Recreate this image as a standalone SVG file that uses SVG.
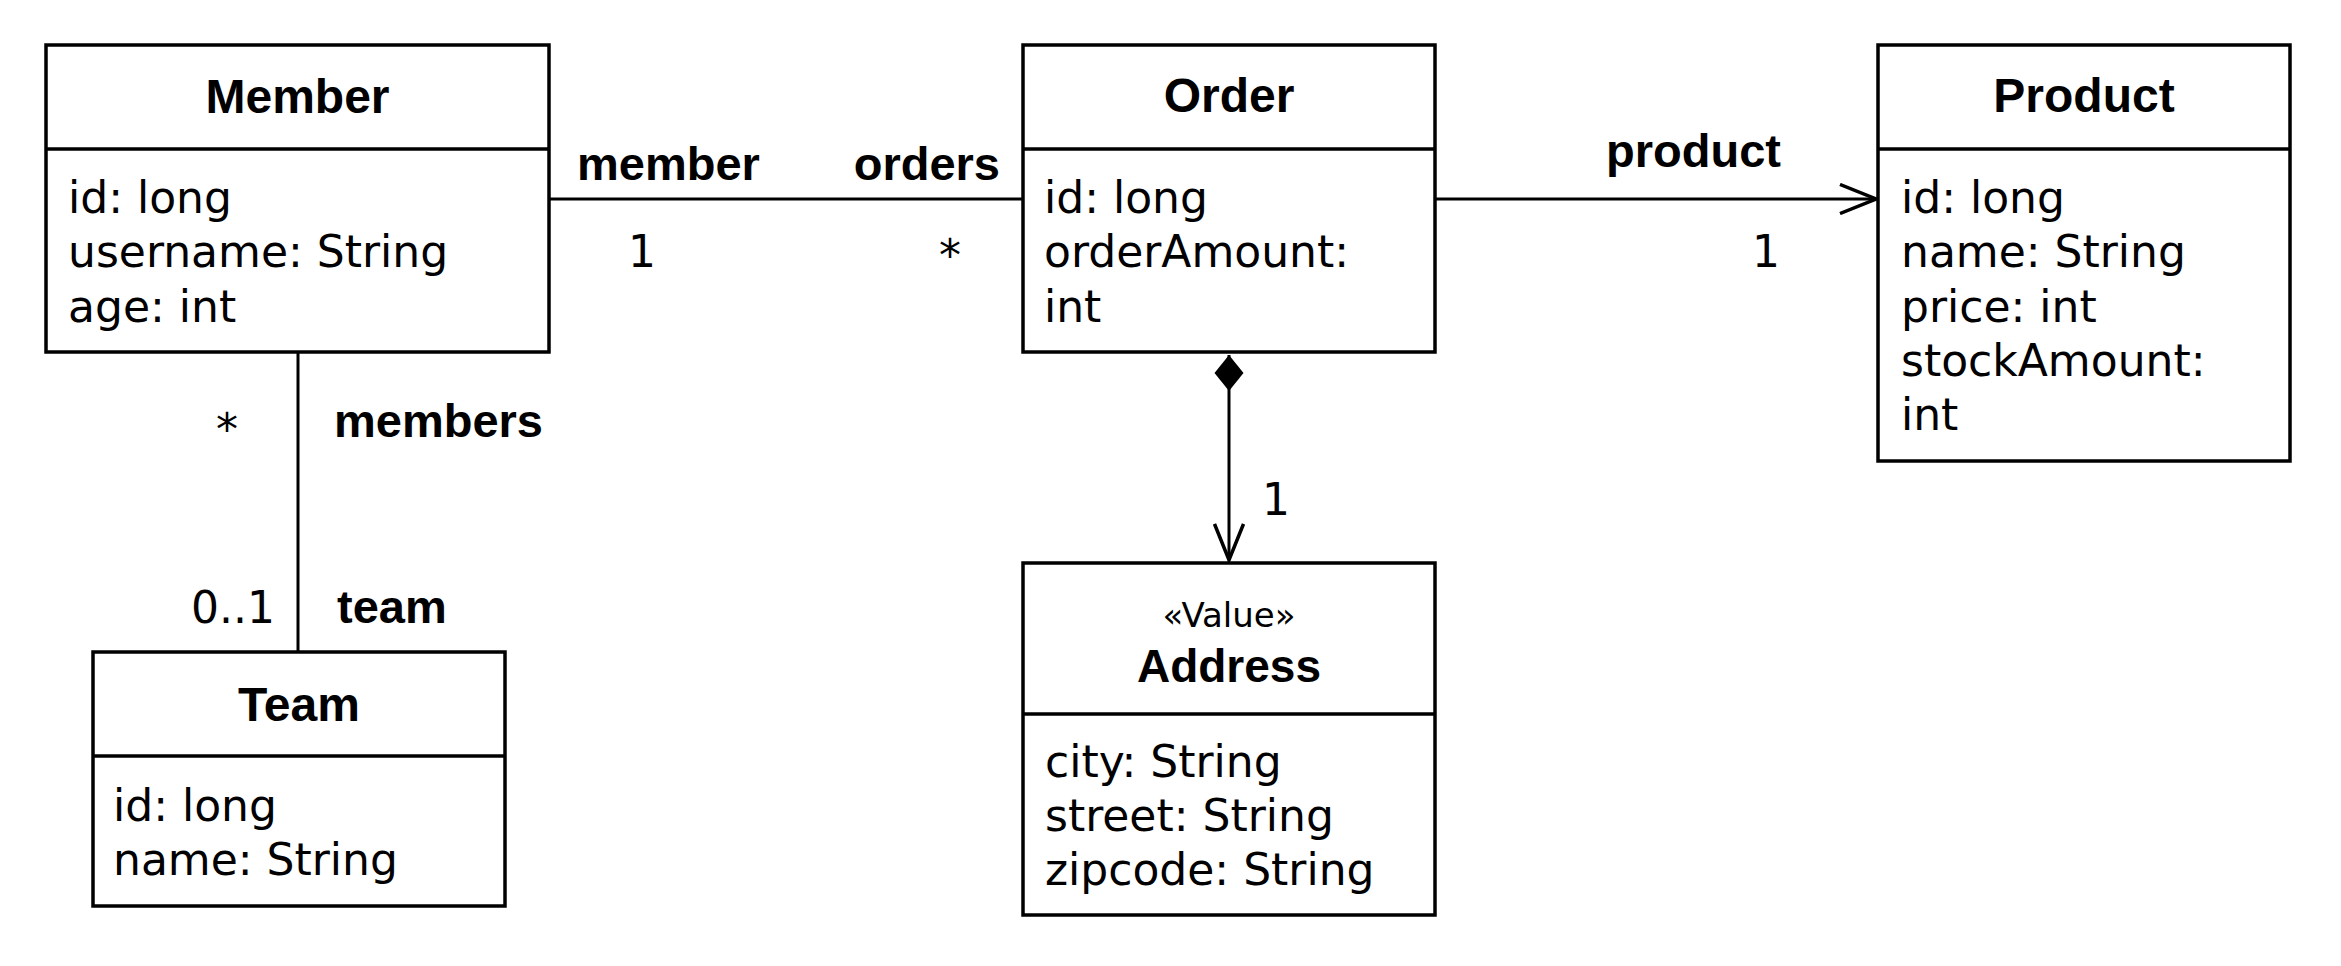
<svg xmlns="http://www.w3.org/2000/svg" width="2341" height="966" viewBox="0 0 2341 966">
<style>
.box{fill:#fff;stroke:#000;stroke-width:3.5}
.div{stroke:#000;stroke-width:3.5}
.line{fill:none;stroke:#000;stroke-width:3}
.title{font-family:"Liberation Sans",Arial,sans-serif;font-weight:bold;font-size:48px;text-anchor:middle;fill:#000}
.attr{font-family:"DejaVu Sans",sans-serif;font-size:44px;fill:#000}
.stereo{font-family:"DejaVu Sans",sans-serif;font-size:34px;text-anchor:middle;fill:#000}
.role{font-family:"Liberation Sans",Arial,sans-serif;font-weight:bold;font-size:47px;fill:#000}
.mult{font-family:"DejaVu Sans",sans-serif;font-size:44px;fill:#000}
</style>
<defs>
<marker id="open" viewBox="0 0 40 32" refX="37" refY="16" markerWidth="40" markerHeight="32" markerUnits="userSpaceOnUse" orient="auto">
<path d="M1,1.5 L37,16 L1,30.5" fill="none" stroke="#000" stroke-width="3.5"/>
</marker>
<marker id="diamond" viewBox="0 0 38 30" refX="1" refY="15" markerWidth="38" markerHeight="30" markerUnits="userSpaceOnUse" orient="auto">
<path d="M1,15 L19,0.5 L37,15 L19,29.5 Z" fill="#000"/>
</marker>
</defs>
<rect width="2341" height="966" fill="#fff"/>

<g id="connectors">
<line class="line" x1="549" y1="199" x2="1023" y2="199"/>
<line class="line" x1="298" y1="352" x2="298" y2="652"/>
<line class="line" x1="1435" y1="199" x2="1876" y2="199" marker-end="url(#open)"/>
<line class="line" x1="1229" y1="355" x2="1229" y2="560" marker-start="url(#diamond)" marker-end="url(#open)"/>
<text class="role" x="577" y="180">member</text>
<text class="role" x="1000" y="180" text-anchor="end">orders</text>
<text class="mult" x="628" y="267">1</text>
<text class="mult" x="950" y="271" text-anchor="middle">*</text>
<text class="role" x="1606" y="167">product</text>
<text class="mult" x="1752" y="267">1</text>
<text class="mult" x="227" y="445" text-anchor="middle">*</text>
<text class="role" x="334" y="437">members</text>
<text class="mult" x="275" y="623" text-anchor="end">0..1</text>
<text class="role" x="337" y="623">team</text>
<text class="mult" x="1262" y="515">1</text>
</g>

<g id="member">
<rect class="box" x="46" y="45" width="503" height="307"/>
<line class="div" x1="46" y1="149" x2="549" y2="149"/>
<text class="title" x="297.5" y="113">Member</text>
<text class="attr" x="68" y="213">id: long</text>
<text class="attr" x="68" y="267">username: String</text>
<text class="attr" x="68" y="322">age: int</text>
</g>

<g id="order">
<rect class="box" x="1023" y="45" width="412" height="307"/>
<line class="div" x1="1023" y1="149" x2="1435" y2="149"/>
<text class="title" x="1229" y="112">Order</text>
<text class="attr" x="1044" y="213">id: long</text>
<text class="attr" x="1044" y="267">orderAmount:</text>
<text class="attr" x="1044" y="322">int</text>
</g>

<g id="product">
<rect class="box" x="1878" y="45" width="412" height="416"/>
<line class="div" x1="1878" y1="149" x2="2290" y2="149"/>
<text class="title" x="2084" y="112">Product</text>
<text class="attr" x="1901" y="213">id: long</text>
<text class="attr" x="1901" y="267">name: String</text>
<text class="attr" x="1901" y="322">price: int</text>
<text class="attr" x="1901" y="376">stockAmount:</text>
<text class="attr" x="1901" y="430">int</text>
</g>

<g id="team">
<rect class="box" x="93" y="652" width="412" height="254"/>
<line class="div" x1="93" y1="756" x2="505" y2="756"/>
<text class="title" x="299" y="721">Team</text>
<text class="attr" x="113" y="821">id: long</text>
<text class="attr" x="113" y="875">name: String</text>
</g>

<g id="address">
<rect class="box" x="1023" y="563" width="412" height="352"/>
<line class="div" x1="1023" y1="714" x2="1435" y2="714"/>
<text class="stereo" x="1229" y="627">«Value»</text>
<text class="title" x="1229" y="682" style="font-size:46px">Address</text>
<text class="attr" x="1045" y="777">city: String</text>
<text class="attr" x="1045" y="831">street: String</text>
<text class="attr" x="1045" y="885">zipcode: String</text>
</g>
</svg>
